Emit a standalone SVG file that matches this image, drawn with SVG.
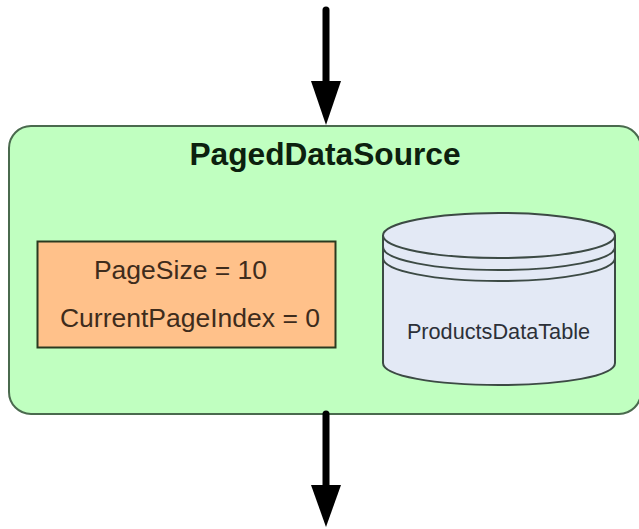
<svg xmlns="http://www.w3.org/2000/svg" width="639" height="529" viewBox="0 0 639 529">
<style>
text{font-family:"Liberation Sans",Arial,sans-serif}
.c{fill:#e3e9f5;stroke:#3c4a44;stroke-width:2}
.t{fill:none;stroke:#3c4a44;stroke-width:2}
.w{stroke:#000;stroke-width:7;stroke-linecap:round;fill:none}
</style>
<rect width="639" height="529" fill="#fff"/>
<g id="paged-data-source">
<rect x="9" y="126" width="632" height="288" rx="22" ry="22" fill="#c0ffc0" stroke="#4a6a4e" stroke-width="2"/>
<text x="325" y="165" text-anchor="middle" font-size="31.7" font-weight="bold" fill="#0c200e">PagedDataSource</text>
</g>
<g id="page-settings">
<rect x="37.500" y="241.500" width="298" height="106" fill="#ffc18a" stroke="#2a3a20" stroke-width="2"/>
<text x="180.500" y="279" text-anchor="middle" font-size="26.500" fill="#3e2c1c">PageSize = 10</text>
<text x="190" y="327" text-anchor="middle" font-size="26.500" fill="#3e2c1c">CurrentPageIndex = 0</text>
</g>
<g id="products-data-table">
<path class="c" d="M383 236V363C383 376 435 385 499 385C563 385 615 376 615 363V236Z"/>
<ellipse class="c" cx="499" cy="235.500" rx="116" ry="22.500"/>
<path class="t" d="M383 236V247C383 260 435 270 499 270C563 270 615 260 615 247V236"/>
<path class="t" d="M383 247V258C383 271 435 281 499 281C563 281 615 271 615 258V247"/>
<text x="498.500" y="339" text-anchor="middle" font-size="21.700" fill="#2c3038">ProductsDataTable</text>
</g>
<g id="connectors">
<path class="w" d="M326 10V84"/>
<polygon points="311,81 341,81 326,125" fill="#000"/>
<path class="w" d="M326 414V488"/>
<polygon points="311,485 341,485 326,527" fill="#000"/>
</g>
</svg>
